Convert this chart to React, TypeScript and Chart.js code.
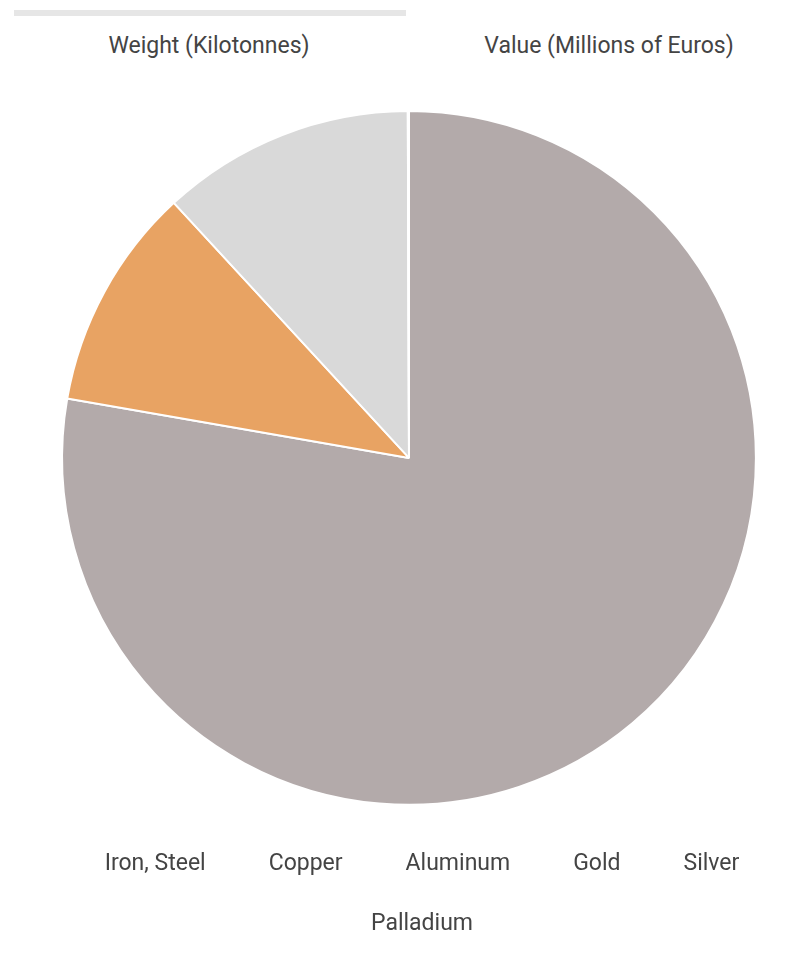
import React, { useEffect, useRef } from "react";
import { Chart, registerables } from "chart.js";

Chart.register(...registerables);

const tabs = ["Weight (Kilotonnes)", "Value (Millions of Euros)"];
const tabCenters = [209, 609];
const categories = ["Iron, Steel", "Copper", "Aluminum", "Gold", "Silver", "Palladium"];
const weightValues = [2240, 300, 340, 0.3, 1.2, 0.1];
const colors = ["#b3aaaa", "#e8a363", "#d9d9d9", "#f2c94c", "#c8c8c8", "#8c8c8c"];

export default function App() {
  const ref = useRef<HTMLCanvasElement>(null);
  useEffect(() => {
    if (!ref.current) return;
    const chart = new Chart(ref.current, {
      type: "pie",
      data: {
        labels: categories,
        datasets: [
          {
            data: weightValues,
            backgroundColor: colors,
            borderColor: "#ffffff",
            borderWidth: 2,
          },
        ],
      },
      options: {
        animation: false,
        responsive: true,
        maintainAspectRatio: false,
        layout: { padding: 0 },
        plugins: {
          tooltip: { enabled: false },
          legend: {
            position: "bottom",
            title: {
              display: true,
              text: " ",
              color: "rgba(0,0,0,0)",
              font: { size: 1, lineHeight: 1.2 },
              padding: { top: 9, bottom: 0 },
            },
            labels: {
              boxWidth: 14.5,
              boxHeight: 20,
              padding: 37,
              color: "#444444",
              font: { family: "Roboto", size: 23 },
              generateLabels: (c) =>
                (c.data.labels as string[]).map((t, i) => ({
                  text: t,
                  fillStyle: "rgba(0,0,0,0)",
                  strokeStyle: "rgba(0,0,0,0)",
                  lineWidth: 0,
                  hidden: false,
                  index: i,
                  fontColor: "#444444",
                })),
            },
          },
        },
      },
    });
    return () => chart.destroy();
  }, []);

  return (
    <div style={{ fontFamily: "Roboto", color: "#444", overflow: "hidden" }}>
      <div style={{ position: "relative", height: 102 }}>
        <div style={{ position: "absolute", left: 6, width: 392, top: 2, height: 6, background: "#e6e6e6" }} />
        {tabs.map((t, i) => (
          <div
            key={t}
            style={{
              position: "absolute",
              left: tabCenters[i] - 8 - 200,
              width: 400,
              top: 25,
              lineHeight: "26px",
              textAlign: "center",
              fontSize: 23,
              whiteSpace: "nowrap",
            }}
          >
            {t}
          </div>
        ))}
      </div>
      <div style={{ position: "relative", width: 802, height: 836 }}>
        <canvas ref={ref} />
      </div>
    </div>
  );
}
